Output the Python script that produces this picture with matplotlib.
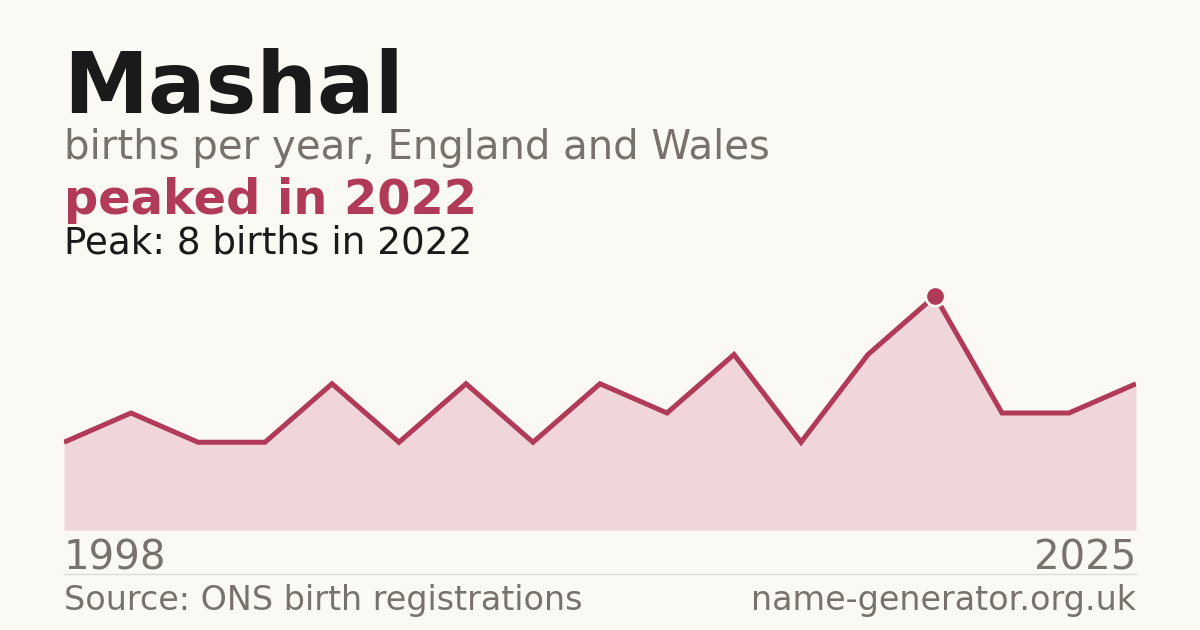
import matplotlib
matplotlib.use("Agg")
import matplotlib.pyplot as plt

# data (evenly spaced by index, not by year)
years = [1998, 2001, 2003, 2005, 2007, 2009, 2010, 2012, 2014, 2015, 2017, 2019, 2021, 2022, 2023, 2024, 2025]
births = [3, 4, 3, 3, 5, 3, 5, 3, 5, 4, 6, 3, 6, 8, 4, 4, 5]
peak_year = 2022
peak_value = 8

BG = "#faf9f4"
RED = "#b03a58"
FILL = "#f0d5da"
GREY = "#77726b"
W, H = 1200, 630

fig = plt.figure(figsize=(12, 6.3), dpi=100, facecolor=BG)


def px(x, y):
    # pixel coords from top-left to figure fraction
    return x / W, 1 - y / H


# plot area
left, right, top, bottom = 64, 1136, 296, 530
ax = fig.add_axes([left / W, 1 - bottom / H, (right - left) / W, (bottom - top) / H])
ax.set_facecolor(BG)
idx = list(range(len(years)))
ax.fill_between(idx, births, 0, color=FILL, lw=0)
ax.plot(idx, births, color=RED, lw=3.6, solid_joinstyle="miter", solid_capstyle="butt")
pi = years.index(peak_year)
ax.plot(pi, births[pi], "o", ms=15, color=BG, clip_on=False, zorder=4)
ax.plot(pi, births[pi], "o", ms=11, color=RED, clip_on=False, zorder=5)
ax.set_xlim(0, len(years) - 1)
ax.set_ylim(0, peak_value)
ax.axis("off")

# header
fig.text(*px(63, 113), "Mashal", fontsize=61.5, fontweight="bold", color="#1a1a1a", va="baseline")
fig.text(*px(64, 159), "births per year, England and Wales", fontsize=29, color=GREY, va="baseline")
fig.text(*px(64, 214), f"peaked in {peak_year}", fontsize=34.5, fontweight="bold", color=RED, va="baseline")
fig.text(*px(64, 253), f"Peak: {peak_value} births in {peak_year}", fontsize=26.8, color="#1a1a1a", va="baseline")

# axis end labels
fig.text(*px(64, 569), str(years[0]), fontsize=29, color=GREY, va="baseline")
fig.text(*px(1136, 569), str(years[-1]), fontsize=29, color=GREY, va="baseline", ha="right")

# divider + footer
fig.add_artist(plt.Line2D([64 / W, 1136 / W], [1 - 574 / H, 1 - 574 / H], color="#dddbd5", lw=1))
fig.text(*px(64, 610), "Source: ONS birth registrations", fontsize=24, color=GREY, va="baseline")
fig.text(*px(1136, 610), "name-generator.org.uk", fontsize=24, color=GREY, va="baseline", ha="right")

fig.savefig("out.png", dpi=100, facecolor=BG)
